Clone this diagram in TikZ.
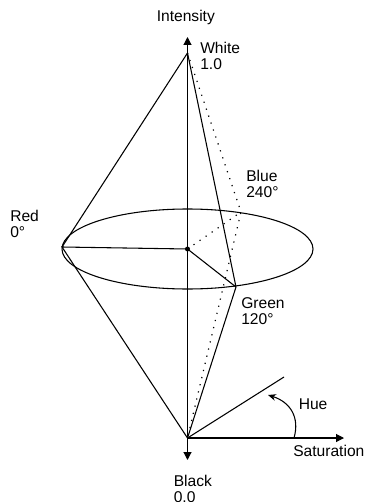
\documentclass[tikz,border=0pt]{standalone}
\usepackage{fontspec}
\setmainfont{Liberation Sans}
\usetikzlibrary{arrows.meta}
\tikzset{
  lab/.style={inner sep=0pt,align=left,anchor=north west,font=\fontsize{11.7pt}{12pt}\selectfont},
  line/.style={line width=0.8pt,black},
  dots/.style={line width=0.9pt,dash pattern=on 0.9pt off 4.6pt},
  axis/.style={line width=0.8pt,-{Triangle[length=6pt,width=6pt]}},
}
\begin{document}
\begin{tikzpicture}[x=0.75pt,y=-0.75pt]
\useasboundingbox (0,0) rectangle (364,502);
\coordinate (W) at (187.5,53);
\coordinate (K) at (187.5,438);
\coordinate (C) at (187.5,249);
\coordinate (R) at (62,247);
\coordinate (G) at (236,287);
\coordinate (B) at (241,212);
\coordinate (AT) at (187.5,37);
\coordinate (AB) at (187.5,460);
\coordinate (SE) at (344,438);
\coordinate (HE) at (284,377);
\coordinate (HS) at (294,438);
\coordinate (HT) at (268,395);
\draw[line] (C) ellipse [x radius=125.5,y radius=40];
\draw[axis] (C) -- (AT);
\draw[axis] (C) -- (AB);
\draw[axis] (K) -- (SE);
\draw[line] (R) -- (W) -- (G) -- (K) -- (R) -- (C) -- (G);
\draw[line] (K) -- (HE);
\draw[dots] (W) -- (B) -- (K);
\draw[dots] (C) -- (B);
\fill (C) circle (2.5);
\draw[line,-{Stealth[length=6pt,width=5pt]}] (HS) .. controls (300,417) and (290,402) .. (HT);
\node[lab] (nI) at (156.5,10) {Intensity};
\node[lab] (nW) at (200,42) {White\\1.0};
\node[lab] (nB) at (246,170) {Blue\\240°};
\node[lab] (nR) at (10,210) {Red\\0°};
\node[lab] (nG) at (241,297) {Green\\120°};
\node[lab] (nH) at (298.5,398) {Hue};
\node[lab] (nS) at (293,445) {Saturation};
\node[lab] (nK) at (173.5,475) {Black\\0.0};
\end{tikzpicture}
\end{document}
